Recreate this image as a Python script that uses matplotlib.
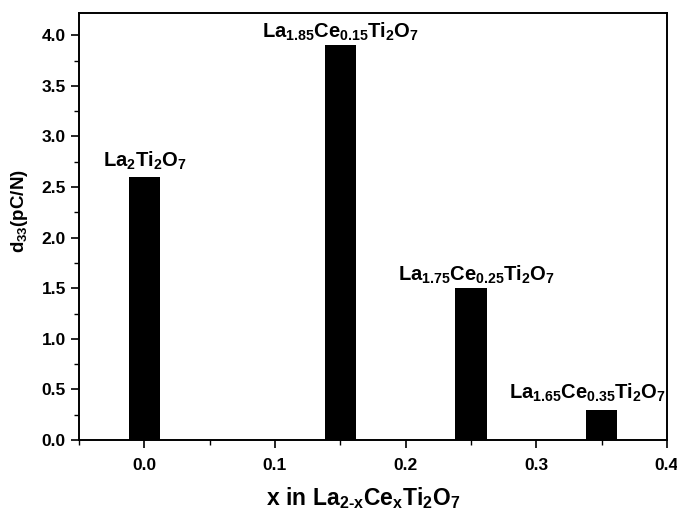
import matplotlib
matplotlib.use("Agg")
import matplotlib.pyplot as plt
from matplotlib.ticker import MultipleLocator

# data
x_vals = [0.0, 0.15, 0.25, 0.35]
d33 = [2.6, 3.9, 1.5, 0.3]
labels = [r'$\mathbf{La_{2}Ti_{2}O_{7}}$',
          r'$\mathbf{La_{1.85}Ce_{0.15}Ti_{2}O_{7}}$',
          r'$\mathbf{La_{1.75}Ce_{0.25}Ti_{2}O_{7}}$',
          r'$\mathbf{La_{1.65}Ce_{0.35}Ti_{2}O_{7}}$']
label_x = [0.0, 0.15, 0.254, 0.339]
label_y = [2.70, 3.98, 1.57, 0.41]
x_ticks = [0.0, 0.1, 0.2, 0.3, 0.4]
y_ticks = [0.0, 0.5, 1.0, 1.5, 2.0, 2.5, 3.0, 3.5, 4.0]

plt.rcParams['font.family'] = 'Liberation Sans'
plt.rcParams['font.weight'] = 'bold'
plt.rcParams['mathtext.fontset'] = 'custom'
plt.rcParams['mathtext.rm'] = 'Liberation Sans:bold'
plt.rcParams['mathtext.bf'] = 'Liberation Sans:bold'
plt.rcParams['mathtext.it'] = 'Liberation Sans:bold'

fig = plt.figure(figsize=(6.77, 5.12), dpi=100)
ax = fig.add_axes([0.1167, 0.1406, 0.8683, 0.834])

ax.bar(x_vals, d33, width=0.024, color='black')
for lx, ly, lab in zip(label_x, label_y, labels):
    ax.text(lx, ly, lab, ha='center', va='baseline', fontsize=14.5)

ax.set_xlim(-0.05, 0.4)
ax.set_ylim(0, 4.22)
ax.set_xticks(x_ticks)
ax.set_yticks(y_ticks)
ax.set_xticklabels(['%.1f' % v for v in x_ticks])
ax.set_yticklabels(['%.1f' % v for v in y_ticks])
ax.xaxis.set_minor_locator(MultipleLocator(0.05))
ax.yaxis.set_minor_locator(MultipleLocator(0.25))
ax.tick_params(which='major', direction='out', length=6, width=1.2, labelsize=12.5)
ax.tick_params(which='minor', direction='out', length=3.5, width=1.0)
ax.tick_params(axis='x', pad=7)
for s in ax.spines.values():
    s.set_linewidth(1.4)

ax.set_ylabel(r'$\mathbf{d_{33}(pC/N)}$', fontsize=13.5)
ax.yaxis.label.set_va('center')
ax.yaxis.set_label_coords(-0.102, 0.536)
ax.set_xlabel(r'$\mathbf{x\ in\ La_{2\text{-}x}Ce_{x}Ti_{2}O_{7}}$', fontsize=16.5)
ax.xaxis.label.set_va('center')
ax.xaxis.set_label_coords(0.483, -0.137)

fig.savefig('out.png', dpi=100)
